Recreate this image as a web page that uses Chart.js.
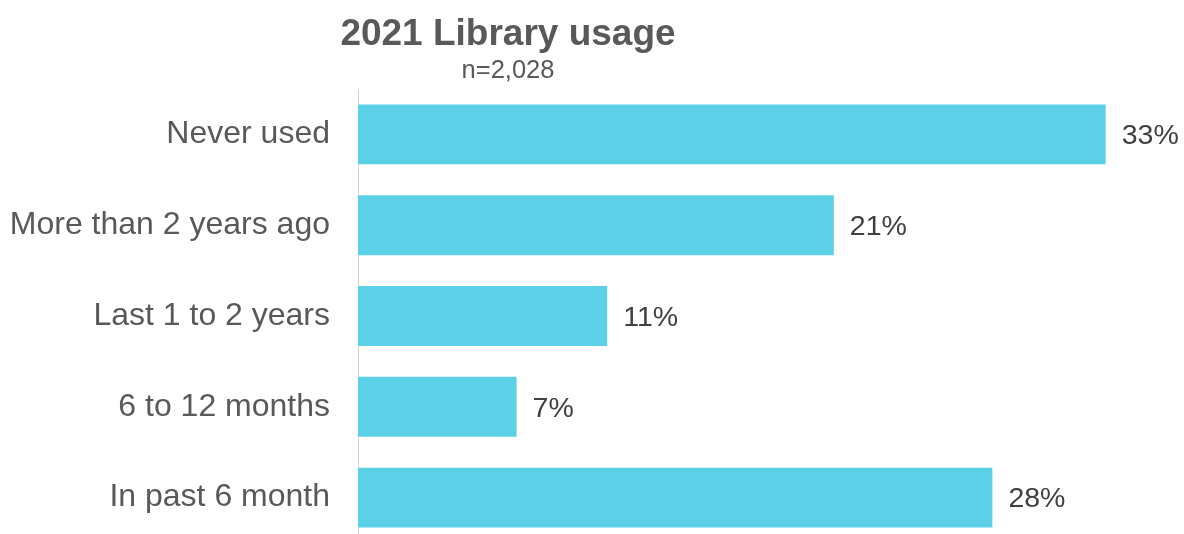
<!DOCTYPE html>
<html>
<head>
<meta charset="utf-8">
<title>2021 Library usage</title>
<script src="https://cdn.jsdelivr.net/npm/chart.js@4/dist/chart.umd.min.js"></script>
<style>
        body { margin: 0; background: #fff; overflow: hidden; }
        canvas { display: block; }
</style>
</head>
<body>
<canvas id="myChart" width="1184" height="545"></canvas>
<script>
// du lieu
const labels = [
        'Never used',
        'More than 2 years ago',
        'Last 1 to 2 years',
        '6 to 12 months',
        'In past 6 month'
];
const usage = [33, 21, 11, 7, 28];
const titleText = '2021 Library usage';
const subText = 'n=2,028';

const FONT = '"Liberation Sans", Arial, sans-serif';
const GRAY = '#595959';

// tieu de + so mau, ve tren canvas
const headerPlugin = {
        id: 'header',
        afterDraw(chart) {
                const ctx = chart.ctx;
                ctx.save();
                ctx.fillStyle = GRAY;
                ctx.textAlign = 'center';
                ctx.textBaseline = 'alphabetic';
                ctx.font = 'bold 37px ' + FONT;
                ctx.fillText(titleText, 508, 45);
                ctx.font = '25.5px ' + FONT;
                ctx.fillText(subText, 508, 78);
                ctx.restore();
        }
};

// nhan % o cuoi moi thanh
const valueLabels = {
        id: 'valueLabels',
        afterDatasetsDraw(chart) {
                const ctx = chart.ctx;
                const meta = chart.getDatasetMeta(0);
                ctx.save();
                ctx.fillStyle = '#404040';
                ctx.font = '28.5px ' + FONT;
                ctx.textAlign = 'left';
                ctx.textBaseline = 'middle';
                meta.data.forEach((bar, i) => {
                        ctx.fillText(usage[i] + '%', bar.x + 16, bar.y + 2);
                });
                ctx.restore();
        }
};

const data = {
        labels: labels,
        datasets: [{
                data: usage,
                backgroundColor: '#5BD0E6',
                borderWidth: 0,
                categoryPercentage: 1,
                barPercentage: 0.66
        }]
};

const config = {
        type: 'bar',
        data: data,
        options: {
                indexAxis: 'y',
                responsive: false,
                animation: false,
                devicePixelRatio: 1,
                layout: { padding: { top: 89, right: 33, bottom: 2, left: 0 } },
                plugins: {
                        legend: { display: false },
                        title: { display: false },
                        tooltip: { enabled: false }
                },
                scales: {
                        x: {
                                display: false,
                                min: 0,
                                max: 35
                        },
                        y: {
                                // co dinh be rong truc, bo khoang dem tren/duoi cua nhan
                                afterFit: scale => {
                                        scale.width = 358;
                                        scale.paddingTop = 0;
                                        scale.paddingBottom = 0;
                                },
                                grid: { display: false, drawTicks: false },
                                border: { display: true, color: '#d4d4d4', width: 1 },
                                ticks: {
                                        color: GRAY,
                                        padding: 28,
                                        font: { family: FONT, size: 32 }
                                }
                        }
                }
        },
        plugins: [headerPlugin, valueLabels]
};

const myChart = new Chart(document.getElementById('myChart'), config);
</script>
</body>
</html>
